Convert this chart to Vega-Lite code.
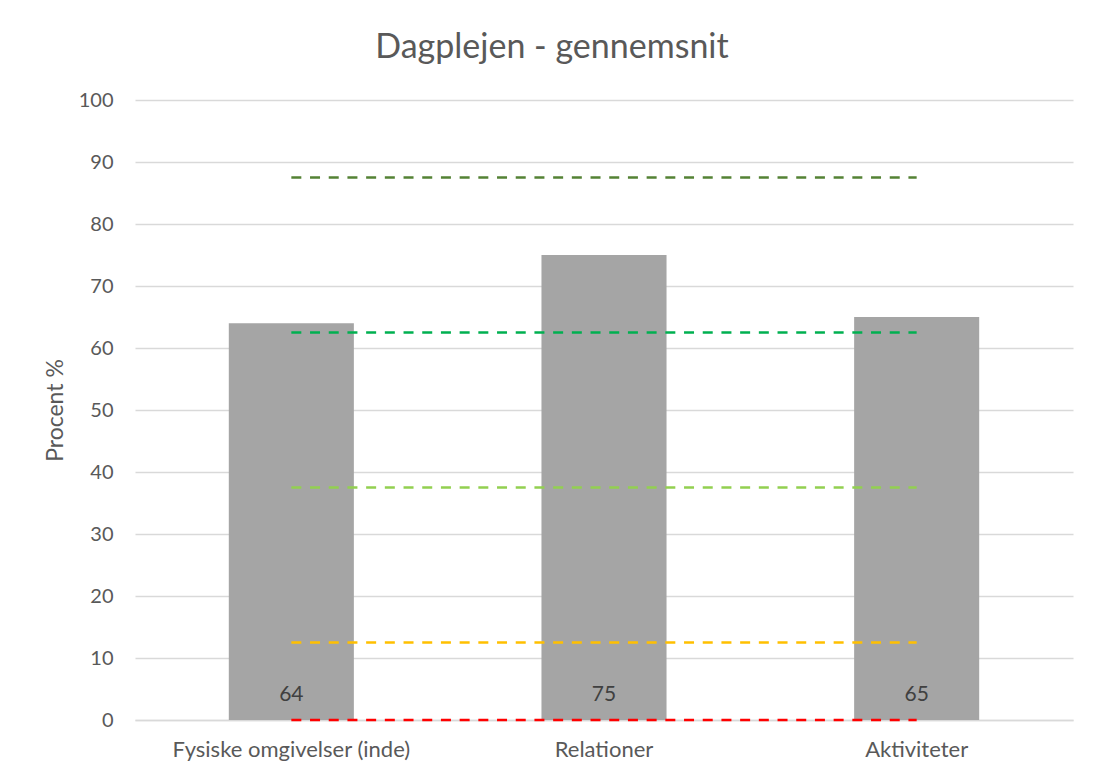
{
  "$schema": "https://vega.github.io/schema/vega-lite/v6.json",
  "width": 938,
  "height": 620,
  "autosize": {"type": "none"},
  "padding": {"left": 135, "top": 100, "right": 29, "bottom": 62},
  "background": "white",
  "config": {
    "font": "Lato",
    "view": {"stroke": null},
    "axis": {"labelFont": "Lato", "titleFont": "Lato", "labelColor": "#595959", "titleColor": "#595959"}
  },
  "title": {
    "text": "Dagplejen - gennemsnit",
    "fontSize": 34,
    "font": "Lato",
    "fontWeight": "normal",
    "color": "#595959",
    "anchor": "middle",
    "dx": -52,
    "offset": 25
  },
  "datasets": {
    "bars": [
      {"kategori": "Fysiske omgivelser (inde)", "procent": 64},
      {"kategori": "Relationer", "procent": 75},
      {"kategori": "Aktiviteter", "procent": 65}
    ],
    "levels": [
      {"kategori": "Fysiske omgivelser (inde)", "niveau": "A", "vaerdi": 87.5},
      {"kategori": "Relationer", "niveau": "A", "vaerdi": 87.5},
      {"kategori": "Aktiviteter", "niveau": "A", "vaerdi": 87.5},
      {"kategori": "Fysiske omgivelser (inde)", "niveau": "B", "vaerdi": 62.5},
      {"kategori": "Relationer", "niveau": "B", "vaerdi": 62.5},
      {"kategori": "Aktiviteter", "niveau": "B", "vaerdi": 62.5},
      {"kategori": "Fysiske omgivelser (inde)", "niveau": "C", "vaerdi": 37.5},
      {"kategori": "Relationer", "niveau": "C", "vaerdi": 37.5},
      {"kategori": "Aktiviteter", "niveau": "C", "vaerdi": 37.5},
      {"kategori": "Fysiske omgivelser (inde)", "niveau": "D", "vaerdi": 12.5},
      {"kategori": "Relationer", "niveau": "D", "vaerdi": 12.5},
      {"kategori": "Aktiviteter", "niveau": "D", "vaerdi": 12.5},
      {"kategori": "Fysiske omgivelser (inde)", "niveau": "E", "vaerdi": 0},
      {"kategori": "Relationer", "niveau": "E", "vaerdi": 0},
      {"kategori": "Aktiviteter", "niveau": "E", "vaerdi": 0}
    ]
  },
  "encoding": {
    "x": {
      "field": "kategori",
      "type": "nominal",
      "sort": ["Fysiske omgivelser (inde)", "Relationer", "Aktiviteter"],
      "scale": {"paddingInner": 0.6, "paddingOuter": 0.3},
      "axis": {
        "title": null,
        "labelAngle": 0,
        "labelFontSize": 22,
        "labelPadding": 19,
        "labelLimit": 0,
        "labelOverlap": false,
        "ticks": false,
        "domain": true,
        "domainColor": "#d9d9d9",
        "domainWidth": 1.5
      }
    }
  },
  "layer": [
    {
      "data": {"name": "bars"},
      "mark": {"type": "bar", "color": "#a5a5a5"},
      "encoding": {
        "y": {
          "field": "procent",
          "type": "quantitative",
          "scale": {"domain": [0, 100], "nice": false},
          "axis": {
            "title": "Procent %",
            "titleFontSize": 23,
            "titleFontWeight": "normal",
            "titlePadding": 11,
            "labelFontSize": 20,
            "labelPadding": 22,
            "labelOverlap": false,
            "ticks": false,
            "domain": false,
            "values": [0, 10, 20, 30, 40, 50, 60, 70, 80, 90, 100],
            "gridColor": "#d9d9d9",
            "gridWidth": 1.5
          }
        }
      }
    },
    {
      "data": {"name": "bars"},
      "mark": {"type": "text", "fontSize": 21, "color": "#404040", "dy": -25, "font": "Lato"},
      "encoding": {
        "y": {"datum": 0, "type": "quantitative"},
        "text": {"field": "procent", "type": "quantitative"}
      }
    },
    {
      "data": {"name": "levels"},
      "mark": {"type": "line", "strokeDash": [10, 8.7], "strokeWidth": 2.7},
      "encoding": {
        "y": {"field": "vaerdi", "type": "quantitative"},
        "color": {
          "field": "niveau",
          "type": "nominal",
          "scale": {"domain": ["A", "B", "C", "D", "E"], "range": ["#548235", "#00b050", "#92d050", "#ffc000", "#ff0000"]},
          "legend": null
        }
      }
    }
  ]
}
